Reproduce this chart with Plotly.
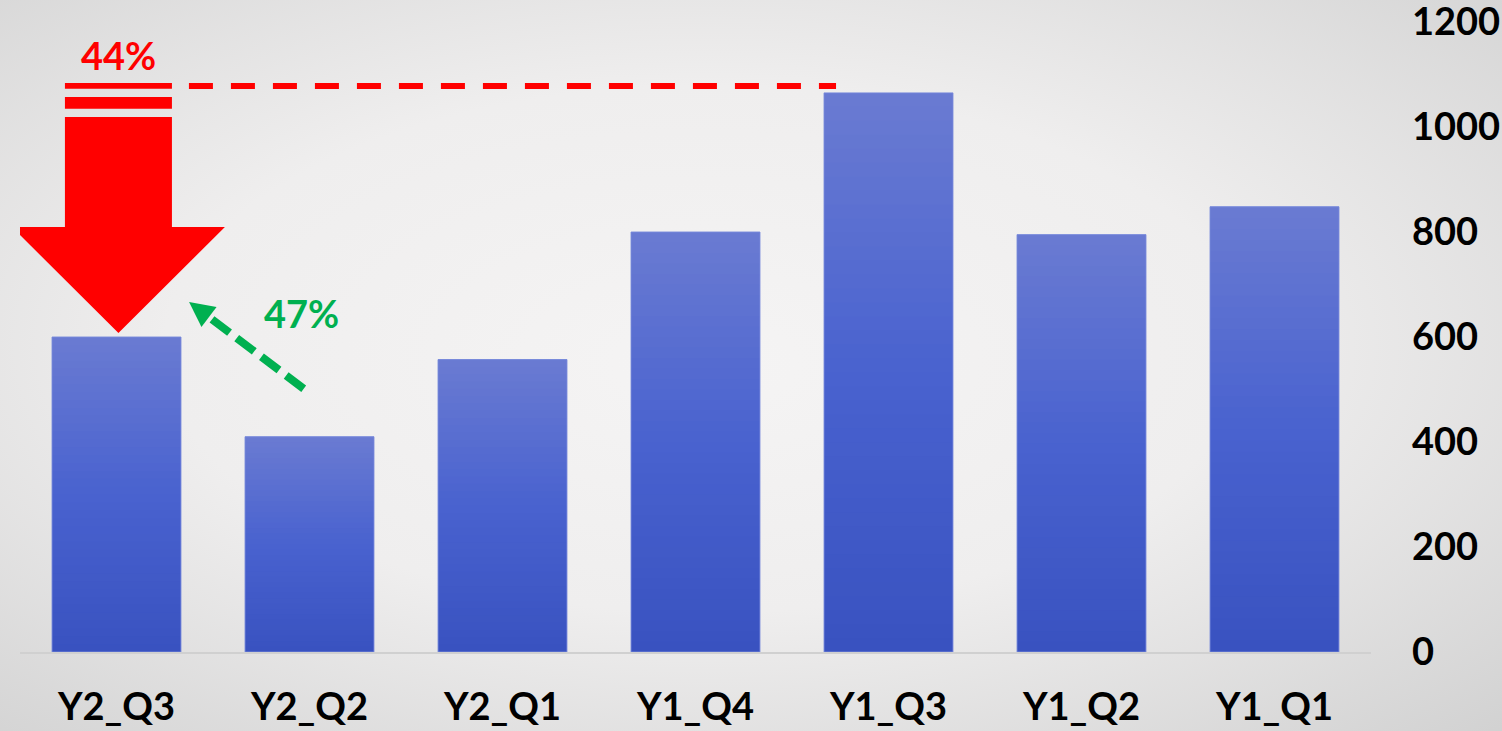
import base64
import math
import plotly.graph_objects as go

# ---------------- data ----------------
categories = ["Y2_Q3", "Y2_Q2", "Y2_Q1", "Y1_Q4", "Y1_Q3", "Y1_Q2", "Y1_Q1"]
values = [600, 410, 557, 800, 1065, 795, 848]
y_ticks = [0, 200, 400, 600, 800, 1000, 1200]
drop_label = "44%"
rise_label = "47%"

# ---------------- layout geometry ----------------
W, H = 1502, 731
ML, MR, MT, MB = 20, 131, 22, 79
PW, PH = W - ML - MR, H - MT - MB
XMIN, XMAX = -0.5, len(categories) - 0.5
YMIN, YMAX = 0, 1200
UX = PW / (XMAX - XMIN)      # px per category unit
UY = PH / (YMAX - YMIN)      # px per value unit


def to_px(x, y):
    return (ML + (x - XMIN) * UX, MT + (YMAX - y) * UY)


def from_px(px, py):
    return (XMIN + (px - ML) / UX, YMAX - (py - MT) / UY)


FONT = "Lato, 'Open Sans', Arial, sans-serif"
FS = 38
RED = "#ff0000"
GREEN = "#00b050"
BAR_W = 0.668

x_idx = list(range(len(categories)))

# bar gradient (top -> bottom)
grad_stops = [(0.0, (106, 123, 210)), (0.5, (73, 98, 207)), (1.0, (57, 82, 192))]


def grad_color(t):
    for (t0, c0), (t1, c1) in zip(grad_stops[:-1], grad_stops[1:]):
        if t <= t1:
            f = (t - t0) / (t1 - t0)
            c = [round(a + (b - a) * f) for a, b in zip(c0, c1)]
            return f"rgb({c[0]},{c[1]},{c[2]})"
    c = grad_stops[-1][1]
    return f"rgb({c[0]},{c[1]},{c[2]})"


fig = go.Figure()
# solid base bars
fig.add_trace(go.Bar(
    x=x_idx, y=values, width=BAR_W,
    marker=dict(color="rgb(74,98,206)", line=dict(width=0)),
    hoverinfo="skip", showlegend=False,
))
# gradient overlay (each bar split into slices of its own value, drawn bottom-up, overlapping)
N = 40
for k in range(N):
    t = 1 - (k + 0.5) / N          # 0 at top, 1 at bottom
    bases = [v * k / N for v in values]
    tops = [min(v * (k + 1.8) / N, v) for v in values]
    fig.add_trace(go.Bar(
        x=x_idx, y=[tp - b for tp, b in zip(tops, bases)], base=bases,
        width=BAR_W, marker=dict(color=grad_color(t), line=dict(width=0)),
        hoverinfo="skip", showlegend=False,
    ))
# outline
fig.add_trace(go.Bar(
    x=x_idx, y=values, width=BAR_W,
    marker=dict(color="rgba(0,0,0,0)", line=dict(color="rgba(120,137,220,0.9)", width=1)),
    hovertemplate="%{x}: %{y}<extra></extra>", showlegend=False,
))

shapes = []
annotations = []

# ---------- red drop arrow (peak -> latest) ----------
i_last = 0
i_peak = values.index(max(values))
v_last = values[i_last]
v_peak = values[i_peak]
cx = i_last + 0.01
shaft_hw = 53.5 / UX
head_hw = 106.5 / UX
dy = lambda p: p / UY  # pixels -> value units

for top, bot in [(v_peak + dy(10), v_peak + dy(4)), (v_peak - dy(4), v_peak - dy(16))]:
    shapes.append(dict(type="rect", xref="x", yref="y", x0=cx - shaft_hw, x1=cx + shaft_hw,
                       y0=bot, y1=top, fillcolor=RED, line=dict(width=0), layer="above"))
shaft_top = v_peak - dy(24)
head_base = v_last + dy(110)
tip = v_last + dy(4)
path = (f"M {cx - shaft_hw},{shaft_top} L {cx + shaft_hw},{shaft_top} "
        f"L {cx + shaft_hw},{head_base} L {cx + head_hw},{head_base} "
        f"L {cx},{tip} L {cx - head_hw},{head_base} L {cx - shaft_hw},{head_base} Z")
shapes.append(dict(type="path", xref="x", yref="y", path=path, fillcolor=RED,
                   line=dict(width=0), layer="above"))
shapes.append(dict(type="line", xref="x", yref="y",
                   x0=cx + shaft_hw + 17 / UX, x1=i_peak - BAR_W / 2 + 12 / UX,
                   y0=v_peak + dy(7), y1=v_peak + dy(7),
                   line=dict(color=RED, width=6, dash="24px,18px"), layer="above"))
annotations.append(dict(x=cx, y=v_peak + dy(38), xref="x", yref="y", text=f"<b>{drop_label}</b>",
                        showarrow=False, font=dict(family=FONT, size=FS, color=RED),
                        xanchor="center", yanchor="middle"))

# ---------- green rise arrow ----------
i_prev = 1
tail_px = to_px(i_prev - 0.03, values[i_prev] + dy(48))
tip_px = to_px(i_last + 0.376, values[i_last] + dy(35))
dx_, dy_ = tip_px[0] - tail_px[0], tip_px[1] - tail_px[1]
L = math.hypot(dx_, dy_)
ux, uy = dx_ / L, dy_ / L
nx, ny = -uy, ux
head_len, head_half = 25, 12.5
base_px = (tip_px[0] - ux * head_len, tip_px[1] - uy * head_len)
line_end_px = (tip_px[0] - ux * (head_len - 3), tip_px[1] - uy * (head_len - 3))
t0 = from_px(*tail_px)
t1 = from_px(*line_end_px)
shapes.append(dict(type="line", xref="x", yref="y", x0=t0[0], y0=t0[1], x1=t1[0], y1=t1[1],
                   line=dict(color=GREEN, width=8, dash="22px,9px"), layer="above"))
p_tip = from_px(*tip_px)
p_a = from_px(base_px[0] + nx * head_half, base_px[1] + ny * head_half)
p_b = from_px(base_px[0] - nx * head_half, base_px[1] - ny * head_half)
shapes.append(dict(type="path", xref="x", yref="y",
                   path=f"M {p_tip[0]},{p_tip[1]} L {p_a[0]},{p_a[1]} L {p_b[0]},{p_b[1]} Z",
                   fillcolor=GREEN, line=dict(width=0), layer="above"))
annotations.append(dict(x=i_last + 0.961, y=values[i_last] + dy(24), xref="x", yref="y",
                        text=f"<b>{rise_label}</b>", showarrow=False,
                        font=dict(family=FONT, size=FS, color=GREEN),
                        xanchor="center", yanchor="middle"))

# ---------- background gradient ----------
svg = (f'<svg xmlns="http://www.w3.org/2000/svg" width="{W}" height="{H}" viewBox="0 0 {W} {H}" '
       f'preserveAspectRatio="none"><defs>'
       f'<radialGradient id="g" cx="0.47" cy="0.45" r="0.8" fx="0.47" fy="0.5">'
       f'<stop offset="0" stop-color="#f5f4f4"/><stop offset="0.45" stop-color="#efeeee"/>'
       f'<stop offset="1" stop-color="#cfcfcf"/></radialGradient></defs>'
       f'<rect x="0" y="0" width="{W}" height="{H}" fill="url(#g)"/></svg>')
src = "data:image/svg+xml;base64," + base64.b64encode(svg.encode()).decode()

fig.update_layout(
    width=W, height=H, autosize=False,
    margin=dict(l=ML, r=MR, t=MT, b=MB, pad=0, autoexpand=False),
    paper_bgcolor="#e6e6e6",
    plot_bgcolor="rgba(0,0,0,0)",
    barmode="overlay",
    showlegend=False,
    shapes=shapes,
    annotations=annotations,
    images=[dict(source=src, xref="paper", yref="paper",
                 x=-ML / PW, y=1 + MT / PH, sizex=W / PW, sizey=H / PH,
                 xanchor="left", yanchor="top", sizing="stretch", layer="below")],
    xaxis=dict(range=[XMIN, XMAX], tickvals=x_idx, ticktext=categories,
               showgrid=False, zeroline=False, showline=True, linecolor="#d0d0d0", linewidth=2,
               ticks="", ticklabelstandoff=20, automargin=False, ticklabeloverflow="allow",
               tickfont=dict(family=FONT, size=FS, color="#000000", weight="bold"),
               fixedrange=True),
    yaxis=dict(range=[YMIN, YMAX], side="right", tickvals=y_ticks,
               showgrid=False, zeroline=False, showline=False, ticks="",
               ticklabelstandoff=40, automargin=False, ticklabeloverflow="allow",
               tickfont=dict(family=FONT, size=FS, color="#000000", weight="bold"),
               fixedrange=True),
)

fig.write_html("out.html", config={"displayModeBar": False, "responsive": False},
               post_script="document.body.style.margin='0';")
